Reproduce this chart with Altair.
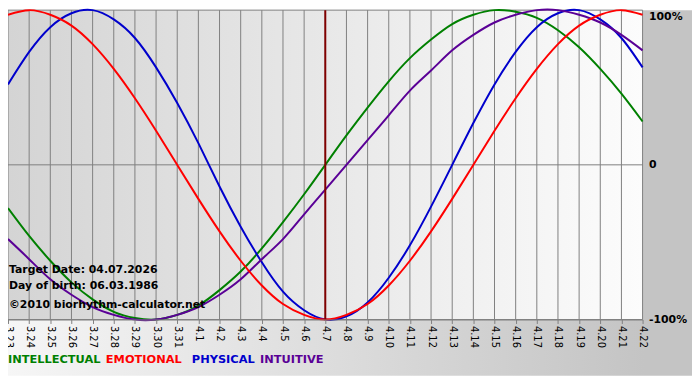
import altair as alt
import pandas as pd

days = ["3.23", "3.24", "3.25", "3.26", "3.27", "3.28", "3.29", "3.30", "3.31",
        "4.1", "4.2", "4.3", "4.4", "4.5", "4.6", "4.7", "4.8", "4.9", "4.10",
        "4.11", "4.12", "4.13", "4.14", "4.15", "4.16", "4.17", "4.18", "4.19",
        "4.20", "4.21", "4.22"]

intellectual = [-0.28, -0.46, -0.62, -0.76, -0.87, -0.95, -0.99, -1.00, -0.97, -0.91,
                -0.81, -0.69, -0.54, -0.37, -0.19, 0.00, 0.19, 0.37, 0.54, 0.69,
                0.81, 0.91, 0.97, 1.00, 0.99, 0.95, 0.87, 0.76, 0.62, 0.46, 0.28]
emotional = [0.97, 1.00, 0.97, 0.90, 0.78, 0.62, 0.43, 0.22, 0.00, -0.22,
             -0.43, -0.62, -0.78, -0.90, -0.97, -1.00, -0.97, -0.90, -0.78, -0.62,
             -0.43, -0.22, 0.00, 0.22, 0.43, 0.62, 0.78, 0.90, 0.97, 1.00, 0.97]
physical = [0.52, 0.73, 0.89, 0.98, 1.00, 0.94, 0.82, 0.63, 0.40, 0.14,
            -0.14, -0.40, -0.63, -0.82, -0.94, -1.00, -0.98, -0.89, -0.73, -0.52,
            -0.27, 0.00, 0.27, 0.52, 0.73, 0.89, 0.98, 1.00, 0.94, 0.82, 0.63]
intuitive = [-0.48, -0.61, -0.74, -0.84, -0.92, -0.97, -1.00, -1.00, -0.97, -0.92,
             -0.84, -0.74, -0.61, -0.48, -0.32, -0.16, 0.00, 0.16, 0.32, 0.48,
             0.61, 0.74, 0.84, 0.92, 0.97, 1.00, 1.00, 0.97, 0.92, 0.84, 0.74]

series_names = ["INTELLECTUAL", "EMOTIONAL", "PHYSICAL", "INTUITIVE"]
series_colors = ["#008000", "#ff0000", "#0000cc", "#5a0096"]
draw_order = ["INTELLECTUAL", "PHYSICAL", "INTUITIVE", "EMOTIONAL"]

target_day = "4.7"
info_lines = ["Target Date: 04.07.2026", "Day of birth: 06.03.1986",
              "\u00a92010 biorhythm-calculator.net"]
y_levels = [-1, 0, 1]

W, H = 642, 313
FONT = "DejaVu Sans"

values = dict(zip(series_names, [intellectual, emotional, physical, intuitive]))
rows = []
for name in draw_order:
    for d, v in zip(days, values[name]):
        rows.append({"day": d, "value": v, "series": name, "order": draw_order.index(name)})
curves_df = pd.DataFrame(rows)
days_df = pd.DataFrame({"day": days})
levels_df = pd.DataFrame({"level": y_levels})
one = pd.DataFrame({"a": [0]})

xscale = alt.Scale(type="point", domain=days, padding=0)
yscale = alt.Scale(domain=[-1, 1], nice=False, zero=False)

outer_bg = alt.Chart(one).mark_rect(
    color=alt.LinearGradient(
        gradient="linear", x1=0, x2=1, y1=0, y2=0,
        stops=[alt.GradientStop(color="#f6f6f6", offset=0),
               alt.GradientStop(color="#c4c4c4", offset=0.93),
               alt.GradientStop(color="#c4c4c4", offset=1)])
).encode(x=alt.value(0), x2=alt.value(W + 50), y=alt.value(0), y2=alt.value(H + 57))

plot_bg = alt.Chart(one).mark_rect(
    color=alt.LinearGradient(
        gradient="linear", x1=0, x2=1, y1=0, y2=0,
        stops=[alt.GradientStop(color="#d4d4d4", offset=0),
               alt.GradientStop(color="#e8e8e8", offset=0.5),
               alt.GradientStop(color="#fcfcfc", offset=1)])
).encode(x=alt.value(0), x2=alt.value(W), y=alt.value(0), y2=alt.value(H))

vgrid = alt.Chart(days_df).mark_rule(color="#808080", strokeWidth=1).encode(
    x=alt.X("day:O", scale=xscale, sort=days,
            axis=alt.Axis(title=None, labelAngle=90, labelFont=FONT, labelFontSize=10,
                          labelColor="#000000", tickColor="#808080", tickSize=4,
                          domainColor="#808080", labelPadding=2, labelAlign="left",
                          labelBaseline="middle", grid=False, zindex=1)),
    y=alt.value(0), y2=alt.value(H))

hgrid = alt.Chart(levels_df).mark_rule(color="#808080", strokeWidth=1).encode(
    y=alt.Y("level:Q", scale=yscale,
            axis=alt.Axis(title=None, orient="right", values=y_levels, grid=False,
                          ticks=False, domain=False, labelFont=FONT, labelFontSize=11,
                          labelFontWeight="bold", labelColor="#000000", labelPadding=6,
                          zindex=1,
                          labelBaseline={"condition": {"test": "datum.value == 1", "value": "top"},
                                         "value": "middle"},
                          labelExpr="datum.value == 1 ? '100%' : (datum.value == 0 ? '0' : '-100%')")),
    x=alt.value(0), x2=alt.value(W))

curves = alt.Chart(curves_df).mark_line(strokeWidth=2, interpolate="natural").encode(
    x=alt.X("day:O", scale=xscale, sort=days),
    y=alt.Y("value:Q", scale=yscale),
    color=alt.Color("series:N", scale=alt.Scale(domain=series_names, range=series_colors), legend=None),
    order=alt.Order("order:Q"),
    detail="series:N")

target = alt.Chart(pd.DataFrame({"day": [target_day]})).mark_rule(
    color="#800000", strokeWidth=2).encode(
    x=alt.X("day:O", scale=xscale, sort=days), y=alt.value(0), y2=alt.value(H))

info_layers = []
for i, t in enumerate(info_lines):
    info_layers.append(alt.Chart(pd.DataFrame({"t": [t]})).mark_text(
        font=FONT, fontSize=11, fontWeight="bold", color="#000000",
        align="left", baseline="middle").encode(
        text="t:N", x=alt.value(1), y=alt.value([263, 279, 298][i])))

legend_x = [0, 99, 186, 255]
legend_layers = []
for name, col, lx in zip(series_names, series_colors, legend_x):
    legend_layers.append(alt.Chart(pd.DataFrame({"t": [name]})).mark_text(
        font=FONT, fontSize=11.5, fontWeight="bold", color=col,
        align="left", baseline="middle").encode(
        text="t:N", x=alt.value(lx), y=alt.value(354)))

chart = alt.layer(outer_bg, plot_bg, vgrid, hgrid, curves, target,
                  *info_layers, *legend_layers).resolve_scale(
    x="shared", y="shared").properties(
    width=W, height=H,
    autosize=alt.AutoSizeParams(type="none"),
    padding={"left": 0, "top": 0, "right": 50, "bottom": 57},
).configure_view(stroke=None)

chart.save("out.html", embed_options={"renderer": "svg", "actions": False})
